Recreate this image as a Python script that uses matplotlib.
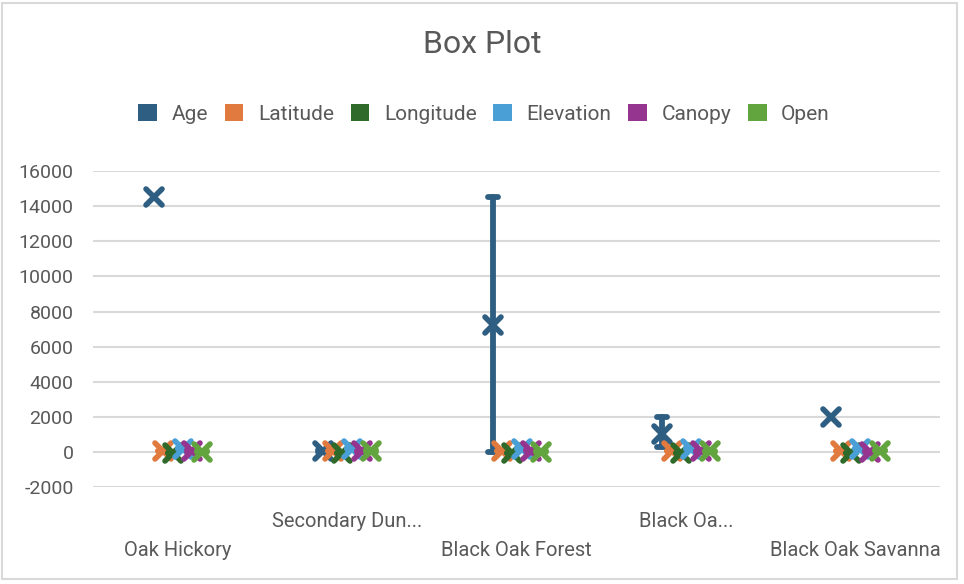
import numpy as np
import matplotlib as mpl
import matplotlib.pyplot as plt
from matplotlib.markers import MarkerStyle
from matplotlib.patches import Patch, Rectangle

mpl.use('Agg')

plt.rcParams['font.family'] = ['Roboto', 'DejaVu Sans']

categories = ['Oak Hickory', 'Secondary Dun...', 'Black Oak Forest', 'Black Oa...', 'Black Oak Savanna']
series = ['Age', 'Latitude', 'Longitude', 'Elevation', 'Canopy', 'Open']
colors = ['#2e5f82', '#e07a3e', '#2f6a2a', '#4a9fd6', '#96358f', '#62a53e']

# per series: value per category (min, max, mean)
age_min = [14500, 0, 0, 300, 2000]
age_max = [14500, 100, 14500, 2000, 2000]
age_mean = [14500, 50, 7250, 1000, 2000]
lat_min = [41.5, 41.55, 41.6, 41.6, 41.6]
lat_max = [41.6, 41.65, 41.7, 41.7, 41.7]
lat_mean = [41.55, 41.6, 41.65, 41.65, 41.65]
lon_min = [-87.1, -87.1, -87.1, -87.1, -87.1]
lon_max = [-87.0, -87.0, -87.0, -87.0, -87.0]
lon_mean = [-87.05, -87.05, -87.05, -87.05, -87.05]
elev_min = [185, 180, 185, 185, 190]
elev_max = [200, 200, 200, 205, 200]
elev_mean = [192, 190, 193, 195, 195]
canopy_min = [20, 5, 40, 10, 5]
canopy_max = [95, 60, 95, 80, 40]
canopy_mean = [70, 30, 80, 50, 20]
open_min = [5, 10, 5, 5, 40]
open_max = [60, 90, 50, 80, 95]
open_mean = [25, 60, 20, 45, 75]

mins = [age_min, lat_min, lon_min, elev_min, canopy_min, open_min]
maxs = [age_max, lat_max, lon_max, elev_max, canopy_max, open_max]
means = [age_mean, lat_mean, lon_mean, elev_mean, canopy_mean, open_mean]

yticks = np.arange(-2000, 16001, 2000)

fig = plt.figure(figsize=(9.64, 5.84), dpi=100)
ax = fig.add_axes([0.0965, 0.166, 0.879, 0.541])

x = np.arange(len(categories))
step = 0.057
x_mark = MarkerStyle('x', capstyle='round')
cap_mark = MarkerStyle('_', capstyle='round')
for j, name in enumerate(series):
    xs = x + (j - 2.5) * step
    for i in range(len(categories)):
        lo, hi = mins[j][i], maxs[j][i]
        if hi > lo:
            ax.plot([xs[i], xs[i]], [lo, hi], color=colors[j], lw=4.2,
                    solid_capstyle='round', zorder=3 + j)
            ax.plot([xs[i], xs[i]], [lo, hi], ls='none', marker=cap_mark, ms=7,
                    mew=4.2, color=colors[j], zorder=3 + j)
        ax.plot(xs[i], means[j][i], ls='none', marker=x_mark, ms=11.5, mew=4.0,
                color=colors[j], zorder=3 + j)

ax.set_xlim(-0.5, len(categories) - 0.5)
ax.set_ylim(-2000, 16000)
ax.set_yticks(yticks)
ax.set_yticklabels([str(v) for v in yticks])
ax.set_xticks(x)
ax.set_xticklabels(categories)
ax.grid(axis='y', color='#d9d9d9', lw=1.5)
ax.set_axisbelow(True)
for s in ax.spines.values():
    s.set_visible(False)
ax.tick_params(axis='both', length=0, labelsize=14, colors='#595959')
ax.tick_params(axis='x', labelsize=14.5)
ax.tick_params(axis='y', pad=14)
for k, tick in enumerate(ax.xaxis.get_major_ticks()):
    tick.set_pad(39 if k % 2 == 0 else 18)

fig.text(0.5, 0.923, 'Box Plot', ha='center', va='center', fontsize=23, color='#595959')

handles = [Patch(facecolor=c, edgecolor='none') for c in colors]
fig.legend(handles, series, loc='center', bbox_to_anchor=(0.502, 0.805), ncol=6,
           frameon=False, fontsize=15, labelcolor='#595959', handlelength=0.9,
           handleheight=0.9, handletextpad=0.7, columnspacing=0.8)

fig.patches.append(Rectangle((2 / 964, 5 / 584), 955 / 964, 576 / 584, transform=fig.transFigure,
                             fill=False, edgecolor='#d9d9d9', lw=1.5))

fig.savefig('out.png', dpi=100)
plt.close()
